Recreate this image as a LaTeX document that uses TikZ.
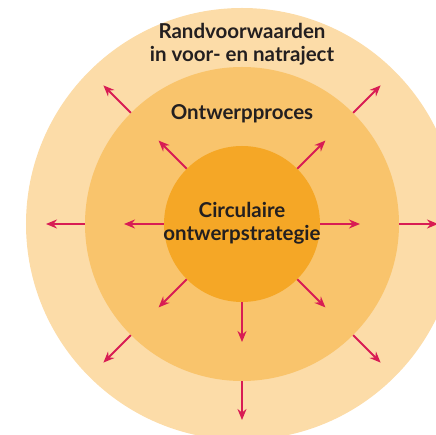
\documentclass[tikz,border=0pt]{standalone}
\usepackage{fontspec}
\setmainfont{Lato}
\usepackage{xcolor}
\usepackage{tikz}
\usetikzlibrary{arrows.meta}

\definecolor{ringout}{RGB}{252,220,168}
\definecolor{ringmid}{RGB}{249,196,108}
\definecolor{ringcore}{RGB}{245,167,38}
\definecolor{spokered}{RGB}{216,28,84}
\definecolor{inkdark}{RGB}{35,31,32}

\begin{document}
\begin{tikzpicture}[x=1pt, y=1pt,
    disc/.style={circle, draw=none, inner sep=0pt},
    spoke/.style={-{Stealth[length=11pt, width=9pt]}, line width=2pt, draw=spokered},
    lbl/.style={align=center, text=inkdark, font=\fontsize{20.5}{23}\selectfont\bfseries}]

\useasboundingbox (-242,-211) rectangle (194,224);

% Rings
\begin{scope}
\clip (-242,-211) rectangle (194,224);
\node[disc, fill=ringout, minimum size=432pt] (outer) at (0,0) {};
\end{scope}
\node[disc, fill=ringmid, minimum size=314pt] (mid) at (0,0) {};
\node[disc, fill=ringcore, minimum size=156pt] (core) at (0,0) {};

% Labels
\node[lbl] (rand) at (0,180) {Randvoorwaarden\\in voor- en natraject};
\node[lbl] (proc) at (0,110) {Ontwerpproces};
\node[lbl] (strat) at (0,1) {Circulaire\\ontwerpstrategie};

% Arrow ends
\coordinate (i0) at (0:118);
\coordinate (i45) at (45:118);
\coordinate (i135) at (135:118);
\coordinate (i180) at (180:118);
\coordinate (i225) at (225:118);
\coordinate (i270) at (270:118);
\coordinate (i315) at (315:118);
\coordinate (o0) at (0:196);
\coordinate (o45) at (45:196);
\coordinate (o135) at (135:196);
\coordinate (o180) at (180:196);
\coordinate (o225) at (225:196);
\coordinate (o270) at (270:196);
\coordinate (o315) at (315:196);

% Inner arrows
\draw[spoke] (core.0) -- (i0);
\draw[spoke] (core.45) -- (i45);
\draw[spoke] (core.135) -- (i135);
\draw[spoke] (core.180) -- (i180);
\draw[spoke] (core.225) -- (i225);
\draw[spoke] (core.270) -- (i270);
\draw[spoke] (core.315) -- (i315);

% Outer arrows
\draw[spoke] (mid.0) -- (o0);
\draw[spoke] (mid.45) -- (o45);
\draw[spoke] (mid.135) -- (o135);
\draw[spoke] (mid.180) -- (o180);
\draw[spoke] (mid.225) -- (o225);
\draw[spoke] (mid.270) -- (o270);
\draw[spoke] (mid.315) -- (o315);

\end{tikzpicture}
\end{document}
